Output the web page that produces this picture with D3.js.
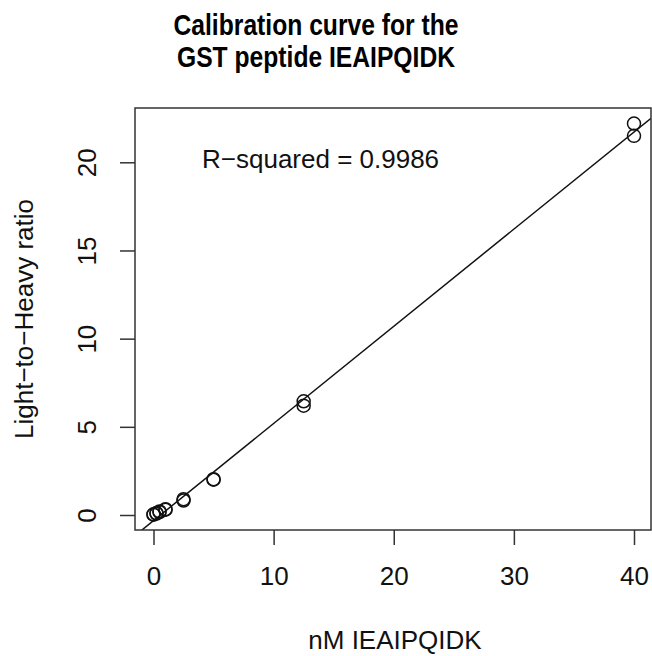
<!DOCTYPE html>
<html>
<head>
<meta charset="utf-8">
<script src="https://cdn.jsdelivr.net/npm/d3@7"></script>
<style>
  body { margin: 0; background: #fff; }
  svg { display: block; font-family: "Liberation Sans", Arial, sans-serif; }
</style>
</head>
<body>
<svg width="652" height="656"></svg>
<script>
"use strict";

const concentrations = [0, 0, 0.25, 0.25, 0.5, 0.5, 1, 1, 2.5, 2.5, 5, 5, 12.5, 12.5, 40, 40];
const ratios = [0.02, 0.04, 0.08, 0.11, 0.17, 0.2, 0.3, 0.33, 0.82, 0.9, 2.0, 2.03, 6.2, 6.45, 21.5, 22.2];
const xTicks = [0, 10, 20, 30, 40];
const yTicks = [0, 5, 10, 15, 20];
// fitted line (abline of lm)
const fitIntercept = -0.32;
const fitSlope = 0.551;
const rSquaredLabel = "R\u2212squared = 0.9986";
const titleLines = ["Calibration curve for the", "GST peptide IEAIPQIDK"];

const svg = d3.select("svg");

// plot region box
const box = { left: 135, right: 651, top: 108, bottom: 530 };

const x = d3.scaleLinear().domain([0, 40]).range([153.5, 634]);
const y = d3.scaleLinear().domain([0, 20]).range([515, 162.3]);

const ink = "#111";
const fontSize = 26;

// clip so the fit line stays inside the box
svg.append("clipPath").attr("id", "plotclip")
  .append("rect")
  .attr("x", box.left).attr("y", box.top)
  .attr("width", box.right - box.left).attr("height", box.bottom - box.top);

// fit line
const xMin = x.invert(box.left), xMax = x.invert(box.right);
svg.append("line")
  .attr("clip-path", "url(#plotclip)")
  .attr("x1", x(xMin)).attr("y1", y(fitIntercept + fitSlope * xMin))
  .attr("x2", x(xMax)).attr("y2", y(fitIntercept + fitSlope * xMax))
  .attr("stroke", ink).attr("stroke-width", 1.5);

// points
svg.append("g")
  .selectAll("circle")
  .data(concentrations.map((c, i) => ({ c, r: ratios[i] })))
  .join("circle")
  .attr("cx", (d) => x(d.c))
  .attr("cy", (d) => y(d.r))
  .attr("r", 6.5)
  .attr("fill", "none")
  .attr("stroke", ink)
  .attr("stroke-width", 1.5);

// box
svg.append("rect")
  .attr("x", box.left).attr("y", box.top)
  .attr("width", box.right - box.left).attr("height", box.bottom - box.top)
  .attr("fill", "none").attr("stroke", "#333").attr("stroke-width", 1.5);

// x axis, R style
const xAxis = svg.append("g")
  .attr("transform", `translate(0,${box.bottom})`)
  .call(d3.axisBottom(x).tickValues(xTicks).tickSize(15).tickPadding(22).tickFormat(d3.format("d")));
xAxis.select(".domain").remove();
xAxis.selectAll("line").attr("stroke", "#333").attr("stroke-width", 1.5);
xAxis.selectAll("text").attr("font-size", fontSize).attr("fill", ink)
  .attr("font-family", "Liberation Sans, Arial, sans-serif");

// y axis with rotated labels
const yAxis = svg.append("g")
  .attr("transform", `translate(${box.left},0)`)
  .call(d3.axisLeft(y).tickValues(yTicks).tickSize(15).tickFormat(d3.format("d")));
yAxis.select(".domain").remove();
yAxis.selectAll("line").attr("stroke", "#333").attr("stroke-width", 1.5);
yAxis.selectAll("text")
  .attr("font-size", fontSize).attr("fill", ink)
  .attr("font-family", "Liberation Sans, Arial, sans-serif")
  .attr("x", null).attr("dy", null)
  .attr("text-anchor", "middle")
  .attr("transform", "translate(-48,0) rotate(-90)")
  .attr("y", 0)
  .attr("dominant-baseline", "central");

// R-squared annotation
svg.append("text")
  .attr("x", 202).attr("y", 168)
  .attr("font-size", fontSize).attr("fill", ink)
  .text(rSquaredLabel);

// axis titles
svg.append("text")
  .attr("x", 395).attr("y", 649)
  .attr("text-anchor", "middle")
  .attr("font-size", fontSize).attr("fill", ink)
  .text("nM IEAIPQIDK");

svg.append("text")
  .attr("transform", "translate(33,319) rotate(-90)")
  .attr("text-anchor", "middle")
  .attr("font-size", fontSize).attr("fill", ink)
  .text("Light\u2212to\u2212Heavy ratio");

// title, a narrow bold face in the original
svg.append("g").selectAll("text")
  .data(titleLines)
  .join("text")
  .attr("x", 316)
  .attr("y", (d, i) => 35 + i * 32)
  .attr("text-anchor", "middle")
  .attr("font-size", 30)
  .attr("font-weight", "bold")
  .attr("fill", "#000")
  .attr("textLength", (d, i) => (i === 0 ? 285 : 278))
  .attr("lengthAdjust", "spacingAndGlyphs")
  .text((d) => d);
</script>
</body>
</html>
